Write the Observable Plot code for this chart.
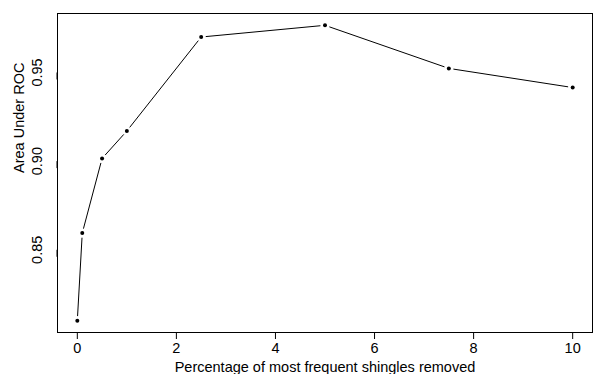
<!DOCTYPE html>
<html>
<head>
<meta charset="utf-8">
<script src="https://cdn.jsdelivr.net/npm/d3@7"></script>
<script src="https://cdn.jsdelivr.net/npm/@observablehq/plot@0.6"></script>
<style>
  html, body { margin: 0; padding: 0; background: #fff; }
  svg { display: block; }
</style>
</head>
<body>
<div id="chart"></div>
<script>
const percentRemoved = [0, 0.1, 0.5, 1, 2.5, 5, 7.5, 10];
const areaUnderROC = [0.810, 0.8594, 0.9015, 0.917, 0.9700, 0.9766, 0.9523, 0.9415];
const xTicks = [0, 2, 4, 6, 8, 10];
const yTicks = [0.85, 0.90, 0.95];
const xTitle = "Percentage of most frequent shingles removed";
const yTitle = "Area Under ROC";

const points = percentRemoved.map((x, i) => ({x, y: areaUnderROC[i]}));
const segments = points.slice(1).map((p, i) => ({x1: points[i].x, y1: points[i].y, x2: p.x, y2: p.y}));

// R-style 4% range extension
const xr = d3.extent(percentRemoved), yr = d3.extent(areaUnderROC);
const xPad = (xr[1] - xr[0]) * 0.04, yPad = (yr[1] - yr[0]) * 0.04;

const font = "'Liberation Sans', Arial, Helvetica, sans-serif";

const chart = Plot.plot({
  width: 593,
  height: 374,
  marginLeft: 57,
  marginRight: 1,
  marginTop: 13,
  marginBottom: 42,
  style: {fontFamily: font, fontSize: "14.5px", color: "#000", background: "#fff"},
  x: {domain: [xr[0] - xPad, xr[1] + xPad]},
  y: {domain: [yr[0] - yPad, yr[1] + yPad]},
  marks: [
    Plot.frame({stroke: "#000", strokeWidth: 1}),
    Plot.axisX({ticks: xTicks, tickSize: 7, tickPadding: 3, label: null, fontSize: 14.5, stroke: "#000", fill: "#000"}),
    Plot.axisY({ticks: yTicks, tickSize: 7, tickPadding: 13, label: null, tickFormat: d3.format(".2f"),
      rotate: -90, textAnchor: "middle", fontSize: 14.5, stroke: "#000", fill: "#000"}),
    Plot.text([xTitle], {frameAnchor: "bottom", dy: 39, lineAnchor: "bottom", fontSize: 14.5, fill: "#000"}),
    Plot.text([yTitle], {frameAnchor: "left", dx: -38, rotate: -90, fontSize: 14.5, fill: "#000"}),
    Plot.arrow(segments, {x1: "x1", y1: "y1", x2: "x2", y2: "y2", stroke: "#000", strokeWidth: 1,
      headLength: 0, bend: 0, insetStart: 5, insetEnd: 5}),
    Plot.dot(points, {x: "x", y: "y", r: 2, fill: "#000", stroke: null})
  ]
});
document.getElementById("chart").appendChild(chart);
</script>
</body>
</html>
